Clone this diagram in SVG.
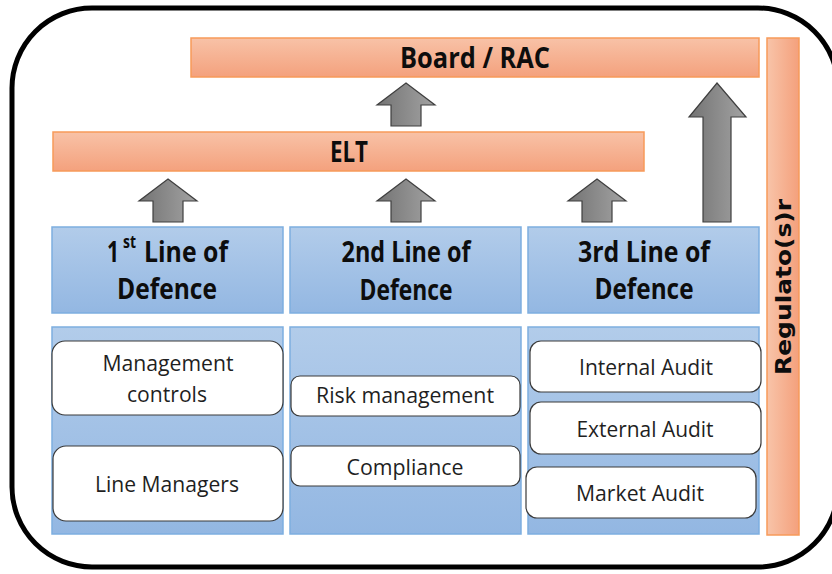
<svg xmlns="http://www.w3.org/2000/svg" width="832" height="574" viewBox="0 0 832 574">
<defs>
<linearGradient id="gOrV" x1="0" y1="0" x2="0" y2="1"><stop offset="0" stop-color="#F8C2A7"/><stop offset="1" stop-color="#F4A17D"/></linearGradient>
<linearGradient id="gOrH" x1="0" y1="0" x2="1" y2="0"><stop offset="0" stop-color="#F8C4A9"/><stop offset="1" stop-color="#F4A07C"/></linearGradient>
<linearGradient id="gBlue" x1="0" y1="0" x2="0" y2="1"><stop offset="0" stop-color="#B2CCEA"/><stop offset="1" stop-color="#93B7E2"/></linearGradient>
<linearGradient id="gArr" x1="0" y1="0" x2="1" y2="0"><stop offset="0" stop-color="#737373"/><stop offset="1" stop-color="#A3A3A3"/></linearGradient>
<style>
.bar{fill:url(#gOrV);stroke:#F79A5A;stroke-width:1.5}
.vbar{fill:url(#gOrH);stroke:#F79A5A;stroke-width:1.5}
.blue{fill:url(#gBlue);stroke:#7DAEE0;stroke-width:1.5}
.wbox{fill:#FFFFFF;stroke:#3A3A3A;stroke-width:1.2}
.arr{fill:url(#gArr);stroke:#3F3F3F;stroke-width:1.2}
.hd{font-family:"Open Sans","DejaVu Sans",sans-serif;font-weight:bold;font-size:29px;fill:#0D0D0D;text-anchor:middle}
.bt{font-family:"Open Sans","DejaVu Sans",sans-serif;font-size:22px;fill:#1F1F1F;text-anchor:middle}
.rg{font-family:"DejaVu Sans","Open Sans",sans-serif;font-weight:bold;font-size:21px;fill:#0D0D0D;text-anchor:middle}
</style>
</defs>
<rect x="12" y="8" width="826" height="559" rx="80" ry="80" fill="#FFFFFF" stroke="#000000" stroke-width="5"/>

<g id="board"><rect class="bar" x="191" y="38" width="568" height="39"/><text class="hd" x="475" y="68" textLength="150" lengthAdjust="spacingAndGlyphs">Board / RAC</text></g>
<g id="elt"><rect class="bar" x="53" y="132" width="591" height="39"/><text class="hd" x="349" y="162" textLength="38" lengthAdjust="spacingAndGlyphs">ELT</text></g>
<g id="regulators"><rect class="vbar" x="767" y="38" width="32" height="497"/><text class="rg" transform="translate(791,287) rotate(-90)" textLength="176" lengthAdjust="spacingAndGlyphs">Regulato(s)r</text></g>

<g id="connectors">
<path class="arr" d="M168,179 L197,201 L183,201 L183,222 L153,222 L153,201 L139,201 Z"/>
<path class="arr" d="M406,179 L435,201 L421,201 L421,222 L391,222 L391,201 L377,201 Z"/>
<path class="arr" d="M597,179 L626,201 L612,201 L612,222 L582,222 L582,201 L568,201 Z"/>
<path class="arr" d="M406,83 L435,105 L421,105 L421,126 L391,126 L391,105 L377,105 Z"/>
<path class="arr" d="M717,83 L746,117 L731,117 L731,222 L703,222 L703,117 L689,117 Z"/>
</g>

<g id="line1">
<rect class="blue" x="52" y="227" width="231" height="86"/>
<text class="hd" x="107" y="262" style="text-anchor:start" textLength="12" lengthAdjust="spacingAndGlyphs">1</text>
<text class="hd" x="123" y="248" style="text-anchor:start;font-size:17px" textLength="13" lengthAdjust="spacingAndGlyphs">st</text>
<text class="hd" x="144" y="262" style="text-anchor:start" textLength="84" lengthAdjust="spacingAndGlyphs">Line of</text>
<text class="hd" x="167" y="299" textLength="100" lengthAdjust="spacingAndGlyphs">Defence</text>
</g>
<g id="line2">
<rect class="blue" x="290" y="227" width="231" height="86"/>
<text class="hd" x="406" y="262" textLength="129" lengthAdjust="spacingAndGlyphs">2nd Line of</text>
<text class="hd" x="406" y="300" textLength="93" lengthAdjust="spacingAndGlyphs">Defence</text>
</g>
<g id="line3">
<rect class="blue" x="528" y="227" width="231" height="86"/>
<text class="hd" x="644" y="262" textLength="132" lengthAdjust="spacingAndGlyphs">3rd Line of</text>
<text class="hd" x="644" y="299" textLength="99" lengthAdjust="spacingAndGlyphs">Defence</text>
</g>

<g id="panel1"><rect class="blue" x="52" y="327" width="231" height="207"/></g>
<g id="panel2"><rect class="blue" x="290" y="327" width="231" height="207"/></g>
<g id="panel3"><rect class="blue" x="528" y="327" width="231" height="207"/></g>

<g id="mgmt"><rect class="wbox" x="52" y="341" width="231" height="74" rx="13"/><text class="bt" x="168" y="371" textLength="131" lengthAdjust="spacingAndGlyphs">Management</text><text class="bt" x="167" y="402" textLength="80" lengthAdjust="spacingAndGlyphs">controls</text></g>
<g id="linemgr"><rect class="wbox" x="53" y="446" width="230" height="75" rx="13"/><text class="bt" x="167" y="492" textLength="144" lengthAdjust="spacingAndGlyphs">Line Managers</text></g>
<g id="risk"><rect class="wbox" x="291" y="376" width="229" height="40" rx="9"/><text class="bt" x="405" y="403" textLength="178" lengthAdjust="spacingAndGlyphs">Risk management</text></g>
<g id="compliance"><rect class="wbox" x="291" y="446" width="229" height="40" rx="9"/><text class="bt" x="405" y="475" textLength="117" lengthAdjust="spacingAndGlyphs">Compliance</text></g>
<g id="internal"><rect class="wbox" x="530" y="341" width="231" height="51" rx="11"/><text class="bt" x="646" y="375" textLength="134" lengthAdjust="spacingAndGlyphs">Internal Audit</text></g>
<g id="external"><rect class="wbox" x="530" y="402" width="231" height="52" rx="11"/><text class="bt" x="645" y="437" textLength="137" lengthAdjust="spacingAndGlyphs">External Audit</text></g>
<g id="market"><rect class="wbox" x="526" y="467" width="230" height="51" rx="11"/><text class="bt" x="640" y="501" textLength="128" lengthAdjust="spacingAndGlyphs">Market Audit</text></g>
</svg>
